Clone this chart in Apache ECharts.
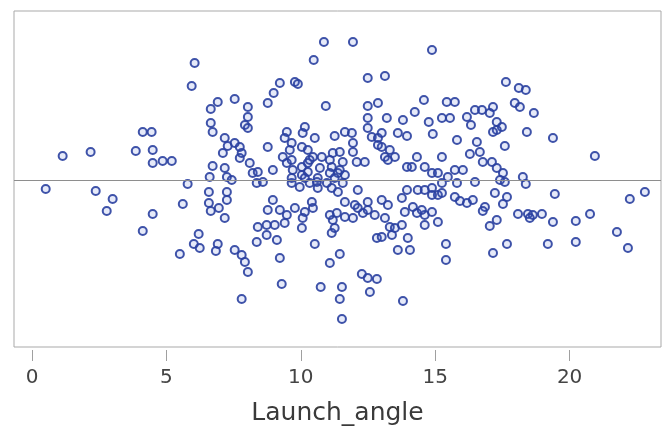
<!DOCTYPE html>
<html>
<head>
<meta charset="utf-8">
<script src="https://cdn.jsdelivr.net/npm/echarts@6/dist/echarts.min.js"></script>
<style>
html,body{margin:0;padding:0;background:#fff;}
#chart{width:665px;height:432px;}
</style>
</head>
<body>
<div id="chart"></div>
<script>
// x: Launch_angle, y: unlabelled response (centred on reference line at 0)
const xTicks = [0, 5, 10, 15, 20];
const xTitle = 'Launch_angle';
const refLineY = 0;

const leftGroup = [
[6.05,11.7],[5.94,9.4],[6.91,7.8],[6.65,7.1],[6.65,5.7],[6.72,4.8],[7.17,4.2],[4.12,4.8],[4.45,4.8],[3.86,2.9],
[4.49,3.0],[1.14,2.4],[2.18,2.8],[4.49,1.7],[4.86,1.9],[5.20,1.9],[7.10,2.7],[6.72,1.4],[6.61,0.3],[0.51,-0.9],
[2.37,-1.1],[3.00,-1.9],[2.78,-3.1],[4.49,-3.4],[4.12,-5.1],[5.79,-0.4],[5.61,-2.4],[6.58,-1.2],[6.58,-2.3],[6.65,-3.1],
[6.95,-2.8],[7.17,-3.8],[7.25,-1.2],[7.25,-2.0],[6.20,-5.4],[6.02,-6.4],[6.24,-6.8],[5.50,-7.4],[6.91,-6.4],[6.84,-7.1],
[7.17,1.2],[7.25,0.3],[7.73,3.3],[7.73,2.2],[8.21,0.7],[8.36,-0.3],[8.59,-0.2],[8.77,3.3],[8.96,1.0],[7.54,8.1],
[8.03,7.3],[8.03,6.3],[7.92,5.5],[8.03,5.2],[7.28,3.4],[7.54,3.7],[7.80,2.7],[8.10,1.7],[8.40,0.8],[7.43,0.0]
];

const upperCentre = [
[10.86,13.8],[11.94,13.8],[14.88,13.0],[10.48,12.0],[12.49,10.2],[13.13,10.4],[9.22,9.7],[9.78,9.8],[9.89,9.6],[8.99,8.7],
[8.77,7.7],[10.93,7.4],[12.49,7.4],[12.87,7.7],[12.49,6.2],[13.20,6.2],[13.80,6.0],[14.24,6.8],[14.58,8.0],[14.76,5.8],
[14.91,4.6],[15.25,6.2],[12.49,5.2],[12.64,4.3],[12.87,4.2],[13.01,4.7],[13.61,4.7],[13.95,4.4],[11.26,4.4],[11.64,4.8],
[11.90,4.7],[11.94,3.7],[11.94,2.8],[11.45,2.8],[11.56,1.8],[12.08,1.8],[12.38,1.8],[13.01,3.3],[13.31,3.0],[13.50,2.3],
[13.13,2.3],[13.24,2.0],[9.48,4.8],[10.15,5.3],[10.07,4.7],[10.52,4.2],[9.40,4.2],[9.66,3.7],[9.59,3.0],[10.04,3.3],
[10.26,3.0],[10.45,2.3],[10.78,2.3],[9.33,2.3],[9.48,1.7],[9.70,1.0],[10.04,1.3],[10.26,1.7],[10.26,0.8],[11.15,1.3],
[11.38,0.7],[14.32,2.3],[14.61,1.3],[14.88,0.7],[15.25,2.3],[15.10,0.7],[14.13,1.3],[13.95,1.3],[12.87,3.5],[11.45,1.0],
[11.64,0.5],[11.56,-0.3],[15.25,-0.3],[15.47,0.3],[9.66,2.0],[10.04,0.5],[10.33,2.0],[10.71,1.2],[11.08,0.7],[10.97,-0.3],
[10.60,-0.2],[10.33,-0.3],[9.96,-0.7],[9.66,-0.3],[11.08,2.0],[11.19,2.7]
];

const lowerCentre = [
[11.53,-13.9],[7.80,-11.9],[11.45,-11.9],[13.80,-12.1],[9.29,-10.4],[10.74,-10.7],[11.53,-10.7],[12.27,-9.4],[12.49,-9.8],[12.83,-9.9],
[12.57,-11.2],[9.22,-7.8],[11.08,-8.3],[11.45,-7.4],[7.54,-7.0],[7.80,-7.5],[7.92,-8.2],[8.03,-9.2],[8.36,-6.2],[10.52,-6.4],
[13.61,-7.0],[14.06,-7.0],[13.98,-5.8],[12.83,-5.8],[13.01,-5.7],[13.39,-5.5],[8.73,-5.5],[9.11,-6.0],[8.40,-4.7],[8.73,-4.5],
[9.03,-4.5],[10.04,-4.8],[11.15,-5.3],[11.26,-4.8],[11.19,-4.0],[11.08,-3.5],[11.94,-3.8],[12.31,-3.3],[12.12,-2.8],[11.64,-2.2],
[11.38,-1.2],[12.12,-1.0],[13.13,-3.8],[13.31,-4.7],[13.50,-4.8],[13.76,-4.5],[13.01,-2.0],[13.24,-2.5],[13.76,-1.8],[13.95,-1.0],
[14.35,-1.0],[14.61,-1.0],[14.88,-0.8],[15.10,-1.5],[14.17,-2.7],[14.32,-3.3],[14.61,-3.5],[14.61,-4.5],[15.10,-4.2],[8.96,-2.0],
[8.77,-3.0],[9.22,-3.0],[9.48,-3.5],[9.78,-2.8],[10.15,-3.2],[10.41,-2.2],[10.45,-2.8],[9.40,-4.3],[10.07,-3.8],[10.63,-0.8],
[11.15,-0.8],[9.66,0.2],[10.15,0.2],[10.63,0.2],[11.26,0.2],[12.49,-3.0],[12.75,-3.5],[13.87,-3.2],[14.50,-3.0],[14.88,-3.2],
[12.49,-2.2],[12.01,-2.5],[11.64,-3.7],[11.34,-3.3],[15.25,-1.3],[14.88,-1.5],[15.40,-6.4],[15.40,-8.0]
];

const rightGroup = [
[17.63,9.8],[18.11,9.2],[18.37,9.0],[17.96,7.7],[18.15,7.3],[18.67,6.7],[15.43,7.8],[15.73,7.8],[15.55,6.2],[16.18,6.3],
[16.48,7.0],[16.74,7.0],[17.15,7.3],[17.03,6.7],[16.33,5.5],[17.29,5.8],[17.48,5.3],[17.29,5.0],[17.15,4.8],[18.41,4.8],
[19.38,4.2],[15.81,4.0],[16.55,3.8],[17.59,3.4],[16.29,2.6],[16.66,2.8],[16.77,1.8],[17.11,1.8],[17.29,1.2],[17.52,0.7],
[15.73,1.0],[16.03,1.0],[20.94,2.4],[18.26,0.3],[19.45,-1.4],[22.24,-1.9],[22.80,-1.2],[21.76,-5.2],[22.17,-6.8],[20.76,-3.4],
[20.23,-4.1],[20.23,-6.2],[19.19,-6.4],[19.38,-4.2],[18.08,-3.4],[18.45,-3.4],[18.63,-3.5],[18.97,-3.4],[18.52,-3.8],[17.67,-6.4],
[17.15,-7.3],[17.29,-4.0],[17.03,-4.6],[16.85,-2.7],[16.77,-3.1],[17.22,-1.3],[17.67,-1.7],[17.52,-2.4],[15.73,-1.7],[15.92,-2.1],
[16.18,-2.3],[16.40,-2.0],[16.48,-0.2],[15.81,-0.3],[17.41,0.0],[17.59,-0.2],[18.37,-0.4]
];

const observations = [].concat(leftGroup, upperCentre, lowerCentre, rightGroup);

const chart = echarts.init(document.getElementById('chart'));
chart.setOption({
  animation: false,
  backgroundColor: '#ffffff',
  grid: {
    left: 14, right: 4, top: 11, bottom: 85,
    show: true, borderColor: '#a9a9a9', borderWidth: 1, backgroundColor: 'transparent'
  },
  xAxis: {
    type: 'value',
    min: -0.67, max: 23.4,
    offset: 3,
    axisLine: { show: false, onZero: false },
    splitLine: { show: false },
    axisTick: { show: true, length: 11, customValues: xTicks, lineStyle: { color: '#a0a0a0', width: 1 } },
    axisLabel: { customValues: xTicks, margin: 18, fontSize: 20, color: '#444444', fontFamily: 'DejaVu Sans' },
    name: xTitle,
    nameLocation: 'middle',
    nameGap: 51,
    nameTextStyle: { fontSize: 25, color: '#3a3a3a', fontFamily: 'DejaVu Sans' }
  },
  yAxis: {
    type: 'value',
    min: -16.7, max: 16.9,
    axisLine: { show: false, onZero: false },
    axisTick: { show: false },
    axisLabel: { show: false },
    splitLine: { show: false }
  },
  series: [{
    type: 'scatter',
    data: observations,
    symbol: 'circle',
    symbolSize: 8,
    itemStyle: { color: 'rgba(70,100,210,0.15)', borderColor: '#2a40a0', borderWidth: 2, opacity: 0.9 },
    markLine: {
      silent: true,
      symbol: ['none', 'none'],
      label: { show: false },
      lineStyle: { color: '#8e8e8e', type: 'solid', width: 1 },
      data: [{ yAxis: refLineY }]
    }
  }]
});
</script>
</body>
</html>
